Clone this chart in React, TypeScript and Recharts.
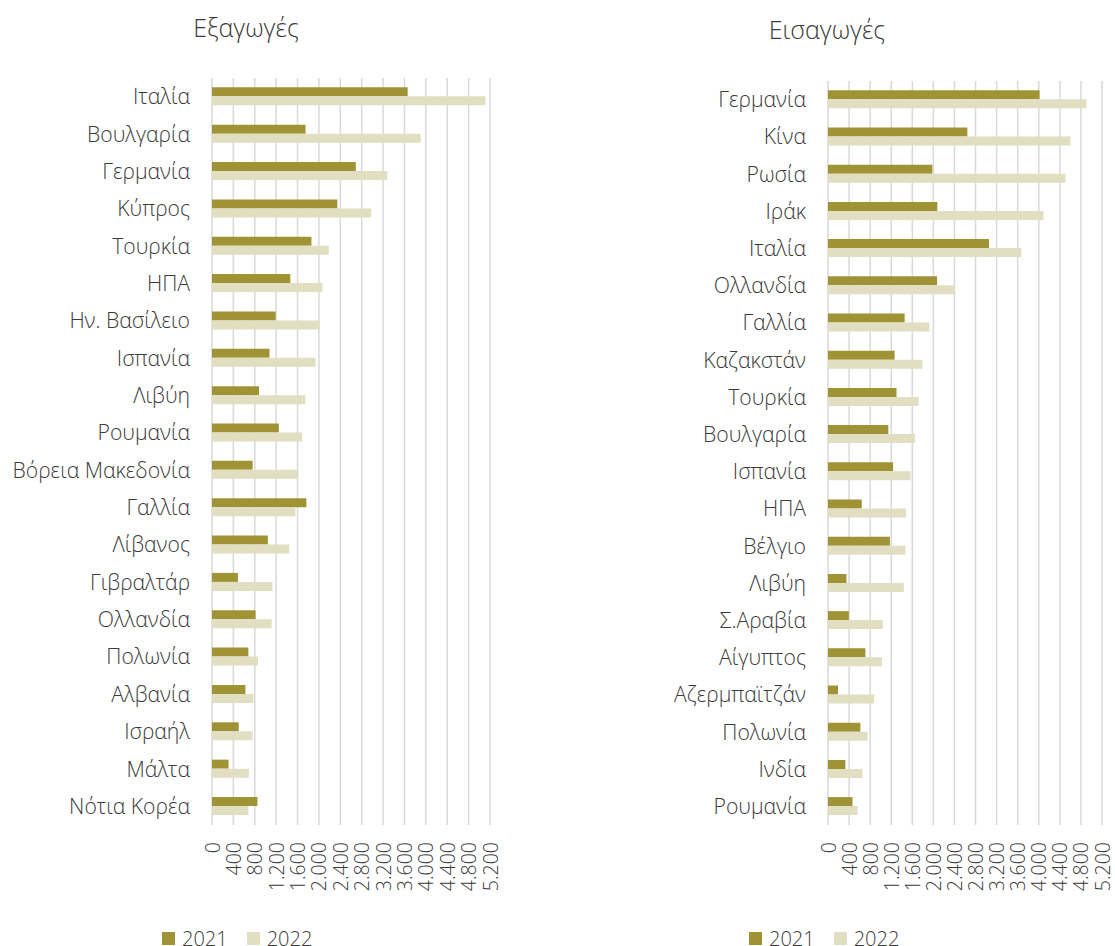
import { BarChart, Bar, XAxis, YAxis, CartesianGrid } from 'recharts'

const exportCountries = ['Ιταλία', 'Βουλγαρία', 'Γερμανία', 'Κύπρος', 'Τουρκία', 'ΗΠΑ', 'Ην. Βασίλειο', 'Ισπανία', 'Λιβύη', 'Ρουμανία', 'Βόρεια Μακεδονία', 'Γαλλία', 'Λίβανος', 'Γιβραλτάρ', 'Ολλανδία', 'Πολωνία', 'Αλβανία', 'Ισραήλ', 'Μάλτα', 'Νότια Κορέα']
const exports2021 = [3660, 1750, 2690, 2345, 1860, 1465, 1190, 1075, 880, 1250, 760, 1765, 1045, 485, 815, 680, 625, 500, 310, 850]
const exports2022 = [5115, 3905, 3280, 2980, 2185, 2065, 2015, 1935, 1745, 1685, 1595, 1560, 1445, 1130, 1115, 860, 775, 760, 690, 680]

const importCountries = ['Γερμανία', 'Κίνα', 'Ρωσία', 'Ιράκ', 'Ιταλία', 'Ολλανδία', 'Γαλλία', 'Καζακστάν', 'Τουρκία', 'Βουλγαρία', 'Ισπανία', 'ΗΠΑ', 'Βέλγιο', 'Λιβύη', 'Σ.Αραβία', 'Αίγυπτος', 'Αζερμπαϊτζάν', 'Πολωνία', 'Ινδία', 'Ρουμανία']
const imports2021 = [4015, 2645, 1980, 2075, 3055, 2070, 1455, 1265, 1300, 1145, 1235, 640, 1175, 350, 395, 710, 190, 615, 330, 465]
const imports2022 = [4905, 4600, 4505, 4090, 3670, 2410, 1925, 1790, 1720, 1650, 1565, 1480, 1470, 1440, 1040, 1025, 875, 750, 655, 560]

const xTicks = [0, 400, 800, 1200, 1600, 2000, 2400, 2800, 3200, 3600, 4000, 4400, 4800, 5200]
const years = ['2021', '2022']

const C2021 = '#A09335'
const C2022 = '#E1DEC1'
const TEXT = '#3a3a3a'

const fmt = (v: number) => v.toString().replace(/\B(?=(\d{3})+(?!\d))/g, '.')

const RotatedTick = (props: any) => {
  const { x, y, payload } = props
  return (
    <text x={x} y={y} transform={`rotate(-90, ${x}, ${y})`} textAnchor="end" dominantBaseline="central" fontSize={19.5} fontWeight={300} fill={TEXT}>
      {fmt(payload.value)}
    </text>
  )
}

function CountryChart({ names, a, b, width, yWidth, right, top }: any) {
  const data = names.map((n: string, i: number) => ({ name: n, y2021: a[i], y2022: b[i] }))
  return (
    <BarChart width={width} height={946} data={data} layout="vertical"
      margin={{ top, right, bottom: 61, left: 0 }} barGap={0} barCategoryGap="25%">
      <CartesianGrid horizontal={false} stroke="#d9d9d9" strokeWidth={1.5} />
      <XAxis type="number" domain={[0, 5200]} ticks={xTicks} interval={0} height={60}
        axisLine={false} tickLine={false} tickMargin={11} tick={<RotatedTick />} />
      <YAxis type="category" dataKey="name" width={yWidth} interval={0}
        axisLine={false} tickLine={false} tickMargin={16}
        tick={{ fontSize: 21.2, fill: TEXT, fontWeight: 300 }} />
      <Bar dataKey="y2021" fill={C2021} isAnimationActive={false} />
      <Bar dataKey="y2022" fill={C2022} isAnimationActive={false} />
    </BarChart>
  )
}

function LegendRow({ left }: { left: number }) {
  return (
    <div style={{ position: 'absolute', left, top: 925, display: 'flex', alignItems: 'center', fontSize: 20, fontWeight: 300, color: TEXT }}>
      {years.map((y, i) => (
        <div key={y} style={{ display: 'flex', alignItems: 'center', marginRight: 19 }}>
          <span style={{ width: 13, height: 13, background: i === 0 ? C2021 : C2022, marginRight: 7, display: 'inline-block' }} />
          <span>{y}</span>
        </div>
      ))}
    </div>
  )
}

export default function App() {
  return (
    <div style={{ position: 'absolute', left: 0, top: 0, width: 1115, height: 946, background: '#fff', fontFamily: '"Open Sans", sans-serif', overflow: 'hidden' }}>
      <div style={{ position: 'absolute', left: 0, top: 0 }}>
        <CountryChart names={exportCountries} a={exports2021} b={exports2022} width={515} yWidth={212} right={25} top={78} />
      </div>
      <div style={{ position: 'absolute', left: 580, top: 0 }}>
        <CountryChart names={importCountries} a={imports2021} b={imports2022} width={535} yWidth={248} right={13} top={81} />
      </div>
      <div style={{ position: 'absolute', left: 146, width: 200, top: 10, textAlign: 'center', fontSize: 25, fontWeight: 300, color: TEXT }}>Εξαγωγές</div>
      <div style={{ position: 'absolute', left: 727, width: 200, top: 12, textAlign: 'center', fontSize: 25, fontWeight: 300, color: TEXT }}>Εισαγωγές</div>
      <LegendRow left={162} />
      <LegendRow left={749} />
    </div>
  )
}
